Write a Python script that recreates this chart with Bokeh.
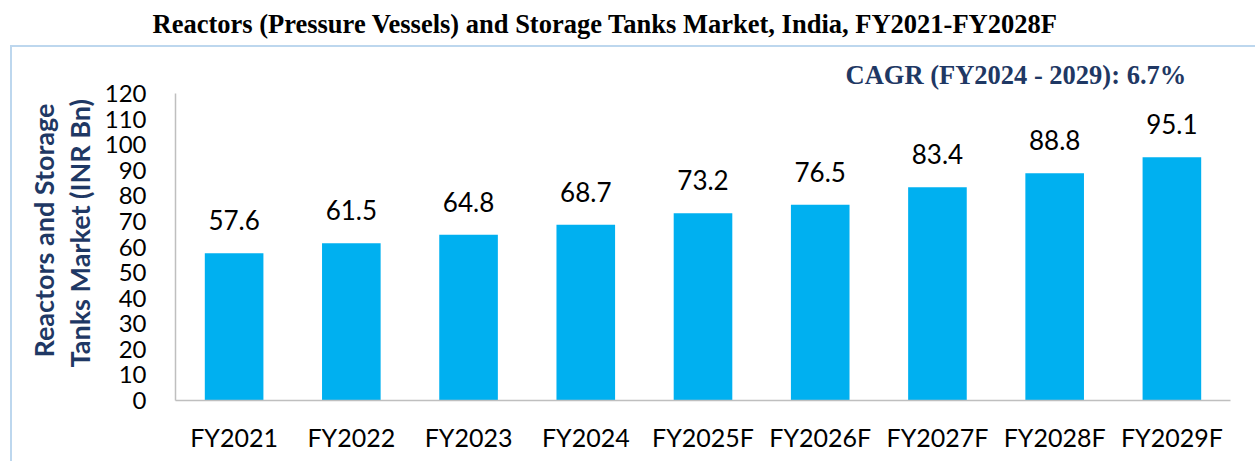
from bokeh.plotting import figure
from bokeh.models import ColumnDataSource, Range1d, FixedTicker, Title, Label, InlineStyleSheet
from bokeh.core.properties import value
from bokeh.embed import file_html
from bokeh.resources import INLINE

categories = ["FY2021", "FY2022", "FY2023", "FY2024", "FY2025F", "FY2026F", "FY2027F", "FY2028F", "FY2029F"]
market_values = [57.6, 61.5, 64.8, 68.7, 73.2, 76.5, 83.4, 88.8, 95.1]
value_labels = ["57.6", "61.5", "64.8", "68.7", "73.2", "76.5", "83.4", "88.8", "95.1"]
y_ticks = [0, 10, 20, 30, 40, 50, 60, 70, 80, 90, 100, 110, 120]

title_text = "Reactors (Pressure Vessels) and Storage Tanks Market, India, FY2021-FY2028F"
cagr_text = "CAGR (FY2024 - 2029): 6.7%"
ylabel_1 = "Reactors and Storage"
ylabel_2 = "Tanks Market (INR Bn)"

NAVY = "#1F3864"
BAR = "#00B0F0"
AXIS = "#BFBFBF"

# frame extends above the axis top (120) so the CAGR note can sit inside it
FRAME_H = 356
AXIS_H = 307
y_max = max(y_ticks) * FRAME_H / AXIS_H

src = ColumnDataSource(dict(cat=categories, val=market_values, lab=value_labels))

p = figure(x_range=categories, y_range=Range1d(0, y_max), frame_width=1055, frame_height=FRAME_H,
           output_backend="svg", toolbar_location=None,
           min_border_left=175, min_border_right=25, min_border_top=44, min_border_bottom=61)
p.x_range.range_padding = 0
p.outline_line_color = None
p.grid.grid_line_color = None
p.background_fill_color = "white"
p.border_fill_color = "white"

p.vbar(x="cat", top="val", width=0.5, source=src, fill_color=BAR, line_color=None)
p.text(x="cat", y="val", text="lab", source=src, text_align="center", text_baseline="alphabetic",
       y_offset=-33, text_font=value("Lato"), text_font_size="26px", text_color="#000000")

for ax in (p.xaxis[0], p.yaxis[0]):
    ax.axis_line_color = AXIS
    ax.axis_line_width = 1.5
    ax.major_tick_line_color = None
    ax.minor_tick_line_color = None
    ax.major_label_text_font = "Lato"
    ax.major_label_text_color = "#000000"

p.yaxis.ticker = FixedTicker(ticks=y_ticks)
p.yaxis.bounds = (0, max(y_ticks))
p.yaxis.major_label_text_font_size = "24px"
p.yaxis.major_label_standoff = 23
p.xaxis.major_label_text_font_size = "25px"
p.xaxis.major_label_standoff = 15

# chart title
p.add_layout(Title(text=title_text, align="left", offset=-23, standoff=12,
                   text_font="Liberation Serif", text_font_style="bold", text_font_size="26.5px",
                   text_color="#000000"), "above")

# CAGR note
p.add_layout(Label(x=670, y=326, x_units="screen", y_units="screen", text=cagr_text,
                   text_align="left", text_baseline="alphabetic", text_font="Liberation Serif",
                   text_font_style="bold", text_font_size="26.5px", text_color=NAVY))

# y-axis label lines
p.add_layout(Title(text=ylabel_2, align="left", offset=33, standoff=11,
                   text_font="Lato", text_font_style="bold", text_font_size="27px",
                   text_color=NAVY), "left")
p.add_layout(Title(text=ylabel_1, align="left", offset=43, standoff=-8,
                   text_font="Lato", text_font_style="bold", text_font_size="27px",
                   text_color=NAVY), "left")

# light blue frame around the chart area (only left/top edges are visible in the window)
p.stylesheets = [InlineStyleSheet(css=":host::after { content: ''; position: absolute; left: 10px; top: 45px; "
                                      "right: 0px; bottom: 0px; border-left: 2px solid #BDD7EE; "
                                      "border-top: 2px solid #BDD7EE; pointer-events: none; z-index: 5; }")]

open("out.html", "w").write(file_html(p, INLINE))
